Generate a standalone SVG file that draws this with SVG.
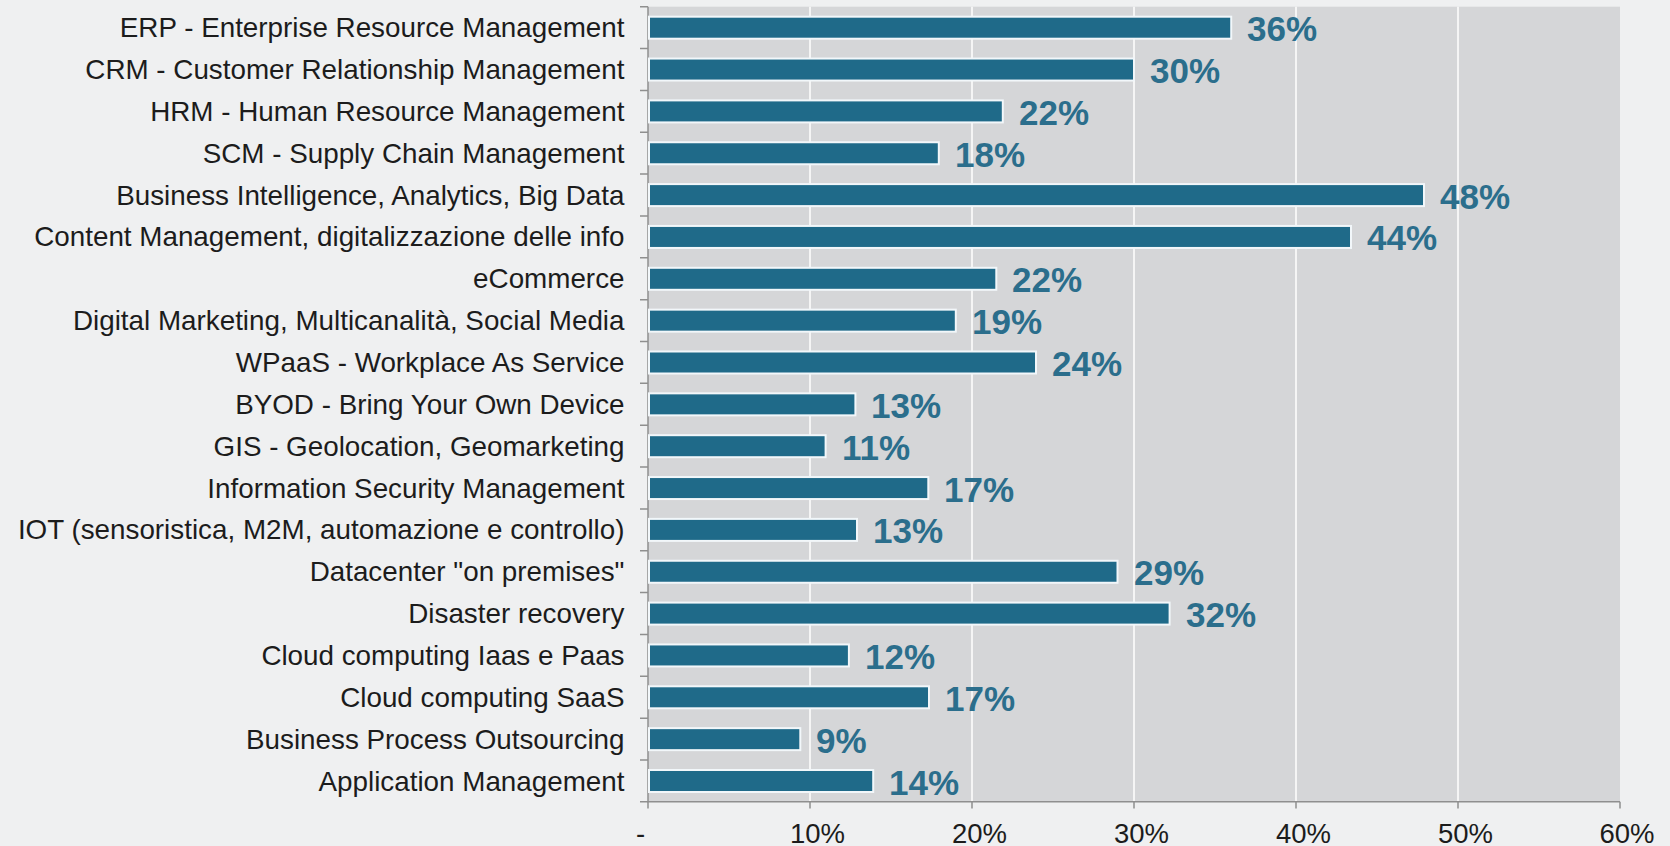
<svg xmlns="http://www.w3.org/2000/svg" width="1670" height="846" viewBox="0 0 1670 846">
<style>
.cat{font-family:"Liberation Sans",Arial,sans-serif;font-size:27.8px;fill:#1c1c1c;text-anchor:end}
.val{font-family:"Liberation Sans",Arial,sans-serif;font-size:35px;font-weight:bold;fill:#2b6e8c}
.ax{font-family:"Liberation Sans",Arial,sans-serif;font-size:27.5px;fill:#1c1c1c;text-anchor:middle}
.bar{fill:#1f6a89;stroke:#f2f7fa;stroke-width:2}
.grid{stroke:#ffffff;stroke-width:1.5}
.axis{stroke:#8f8f8f;stroke-width:1.5;fill:none}
</style>
<rect x="0" y="0" width="1670" height="846" fill="#eff0f1"/>
<rect x="648" y="6.7" width="972" height="795" fill="#d5d6d8"/>
<g id="gridlines">
<line class="grid" x1="810" y1="6.7" x2="810" y2="801.7"/>
<line class="grid" x1="972" y1="6.7" x2="972" y2="801.7"/>
<line class="grid" x1="1134" y1="6.7" x2="1134" y2="801.7"/>
<line class="grid" x1="1296" y1="6.7" x2="1296" y2="801.7"/>
<line class="grid" x1="1458" y1="6.7" x2="1458" y2="801.7"/>
</g>
<g id="axes">
<path class="axis" d="M648 6.7V801.7H1620"/>
<path class="axis" d="M640 6.7H648M640 48.55H648M640 90.4H648M640 132.25H648M640 174.1H648M640 215.95H648M640 257.8H648M640 299.65H648M640 341.5H648M640 383.35H648M640 425.2H648M640 467.05H648M640 508.9H648M640 550.75H648M640 592.6H648M640 634.45H648M640 676.3H648M640 718.15H648M640 760H648M640 801.7H648"/>
<path class="axis" d="M648 801.7V808.5M810 801.7V808.5M972 801.7V808.5M1134 801.7V808.5M1296 801.7V808.5M1458 801.7V808.5M1620 801.7V808.5"/>
<text class="ax" x="640.5" y="843">-</text>
<text class="ax" x="817.5" y="843">10%</text>
<text class="ax" x="979.5" y="843">20%</text>
<text class="ax" x="1141.5" y="843">30%</text>
<text class="ax" x="1303.5" y="843">40%</text>
<text class="ax" x="1465.5" y="843">50%</text>
<text class="ax" x="1627" y="843">60%</text>
</g>
<g id="erp"><text class="cat" x="624.5" y="37.2">ERP - Enterprise Resource Management</text><rect class="bar" x="649" y="16.7" width="582.2" height="22"/><text class="val" x="1247" y="41.2">36%</text></g>
<g id="crm"><text class="cat" x="624.5" y="79.05">CRM - Customer Relationship Management</text><rect class="bar" x="649" y="58.55" width="485" height="22"/><text class="val" x="1150" y="83.05">30%</text></g>
<g id="hrm"><text class="cat" x="624.5" y="120.9">HRM - Human Resource Management</text><rect class="bar" x="649" y="100.4" width="353.8" height="22"/><text class="val" x="1019" y="124.9">22%</text></g>
<g id="scm"><text class="cat" x="624.5" y="162.75">SCM - Supply Chain Management</text><rect class="bar" x="649" y="142.25" width="289.8" height="22"/><text class="val" x="955" y="166.75">18%</text></g>
<g id="bi"><text class="cat" x="624.5" y="204.6">Business Intelligence, Analytics, Big Data</text><rect class="bar" x="649" y="184.1" width="775" height="22"/><text class="val" x="1440" y="208.6">48%</text></g>
<g id="cm"><text class="cat" x="624.5" y="246.45">Content Management, digitalizzazione delle info</text><rect class="bar" x="649" y="225.95" width="702" height="22"/><text class="val" x="1367" y="250.45">44%</text></g>
<g id="ecommerce"><text class="cat" x="624.5" y="288.3">eCommerce</text><rect class="bar" x="649" y="267.8" width="347.3" height="22"/><text class="val" x="1012" y="292.3">22%</text></g>
<g id="digital-marketing"><text class="cat" x="624.5" y="330.15">Digital Marketing, Multicanalità, Social Media</text><rect class="bar" x="649" y="309.65" width="306.8" height="22"/><text class="val" x="972" y="334.15">19%</text></g>
<g id="wpaas"><text class="cat" x="624.5" y="372">WPaaS - Workplace As Service</text><rect class="bar" x="649" y="351.5" width="387" height="22"/><text class="val" x="1052" y="376">24%</text></g>
<g id="byod"><text class="cat" x="624.5" y="413.85">BYOD - Bring Your Own Device</text><rect class="bar" x="649" y="393.35" width="206.4" height="22"/><text class="val" x="871" y="417.85">13%</text></g>
<g id="gis"><text class="cat" x="624.5" y="455.7">GIS - Geolocation, Geomarketing</text><rect class="bar" x="649" y="435.2" width="176.6" height="22"/><text class="val" x="842" y="459.7">11%</text></g>
<g id="ism"><text class="cat" x="624.5" y="497.55">Information Security Management</text><rect class="bar" x="649" y="477.05" width="279.3" height="22"/><text class="val" x="944" y="501.55">17%</text></g>
<g id="iot"><text class="cat" x="624.5" y="539.4">IOT (sensoristica, M2M, automazione e controllo)</text><rect class="bar" x="649" y="518.9" width="208" height="22"/><text class="val" x="873" y="543.4">13%</text></g>
<g id="datacenter"><text class="cat" x="624.5" y="581.25">Datacenter "on premises"</text><rect class="bar" x="649" y="560.75" width="468.5" height="22"/><text class="val" x="1134" y="585.25">29%</text></g>
<g id="disaster-recovery"><text class="cat" x="624.5" y="623.1">Disaster recovery</text><rect class="bar" x="649" y="602.6" width="520.6" height="22"/><text class="val" x="1186" y="627.1">32%</text></g>
<g id="cloud-iaas"><text class="cat" x="624.5" y="664.95">Cloud computing Iaas e Paas</text><rect class="bar" x="649" y="644.45" width="199.9" height="22"/><text class="val" x="865" y="668.95">12%</text></g>
<g id="cloud-saas"><text class="cat" x="624.5" y="706.8">Cloud computing SaaS</text><rect class="bar" x="649" y="686.3" width="280" height="22"/><text class="val" x="945" y="710.8">17%</text></g>
<g id="bpo"><text class="cat" x="624.5" y="748.65">Business Process Outsourcing</text><rect class="bar" x="649" y="728.15" width="151.3" height="22"/><text class="val" x="816" y="752.65">9%</text></g>
<g id="app-management"><text class="cat" x="624.5" y="790.5">Application Management</text><rect class="bar" x="649" y="770" width="224.2" height="22"/><text class="val" x="889" y="794.5">14%</text></g>
<g id="connectors"/>
</svg>
